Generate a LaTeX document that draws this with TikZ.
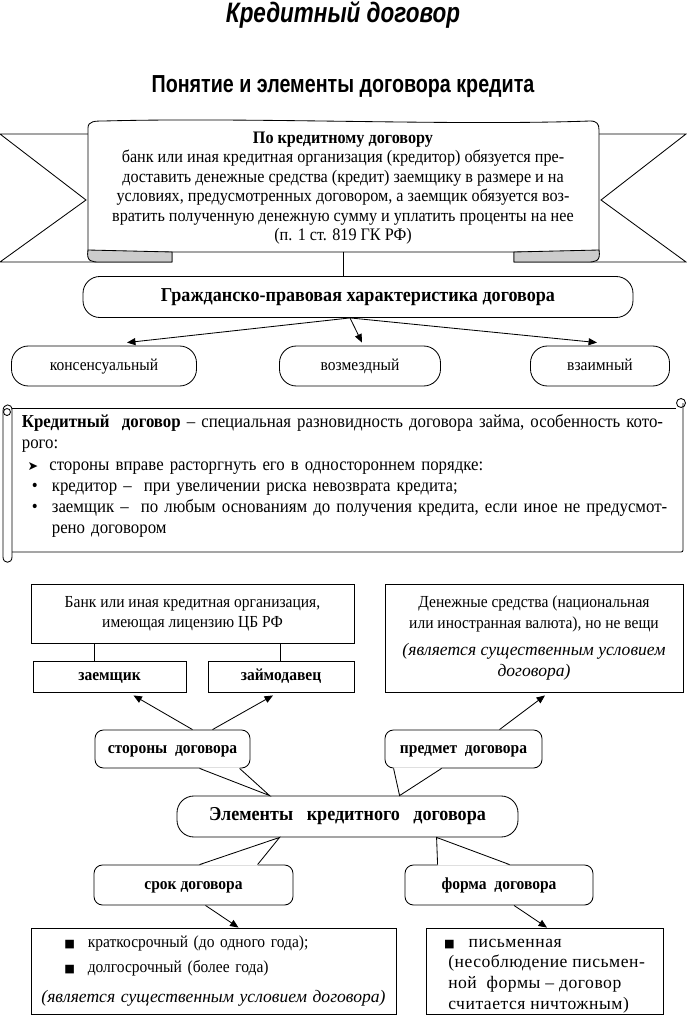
\documentclass[tikz,border=0pt]{standalone}
\usepackage{fontspec}
\setmainfont[FakeStretch=0.92]{Liberation Serif}
\newfontfamily\headfont[FakeStretch=0.8]{Liberation Sans}
\newfontfamily\itfont{Liberation Serif}
\newfontfamily\wideserif[LetterSpace=3]{Liberation Serif}
\newfontfamily\symfont{DejaVu Sans}
\usetikzlibrary{calc,arrows.meta}
\def\pxu{0.025cm}

\begin{document}
\begin{tikzpicture}[x=0.025cm,y=-0.025cm,line width=0.6pt,
  every node/.style={inner sep=0pt,font=\fontsize{12}{14.5}\selectfont},
  wh/.style 2 args={minimum width=#1*\pxu,minimum height=#2*\pxu},
  oneline/.style={text height=8.5pt,text depth=2.5pt},
  pill/.style={draw,rounded corners=12pt},
  card/.style={draw},
  bubble/.style={draw,rounded corners=6pt},
  bold/.style={font=\fontsize{12}{14.5}\selectfont\bfseries},
  big/.style={font=\fontsize{14}{16}\selectfont\bfseries},
  cover/.style={fill=white,draw=none},
  link/.style={-{Triangle[length=6pt,width=5pt]}}]
\useasboundingbox (0,0) rectangle (686,1024);

\node[font=\headfont\bfseries\itshape\fontsize{20}{24}\selectfont] (title) at (343,15) {Кредитный договор};
\node[font=\headfont\bfseries\fontsize{17.5}{20}\selectfont] (subtitle) at (343,87) {Понятие и элементы договора кредита};

\draw (88,134) -- (0,134) -- (86,200) -- (0,262) -- (172,262) -- (172,252);
\draw (599,134) -- (686,134) -- (601,200) -- (686,262) -- (514,262) -- (514,252);
\draw[fill=white] (88,252) -- (88,128) .. controls (88,121) and (95,121) .. (104,121) .. controls (250,117) and (450,126) .. (590,121) .. controls (597,121) and (599,124) .. (599,130) -- (599,252) -- cycle;
\filldraw[fill=gray!40] (88,250) .. controls (86,262) and (92,262) .. (100,262) -- (172,262) -- (172,252) -- cycle;
\filldraw[fill=gray!40] (599,250) .. controls (601,262) and (595,262) .. (587,262) -- (514,262) -- (514,252) -- cycle;
\node[align=center,font=\fontsize{12.5}{13.9}\selectfont] (def) at (343,188) {\textbf{По кредитному договору}\\
банк или иная кредитная организация (кредитор) обязуется пре-\\
доставить денежные средства (кредит) заемщику в размере и на\\
условиях, предусмотренных договором, а заемщик обязуется воз-\\
вратить полученную денежную сумму и уплатить проценты на нее\\
(п. 1 ст. 819 ГК РФ)};
\coordinate (bannerbot) at (343,252);

\node[pill,big,oneline,wh={550}{41}] (grazh) at (358,297) {Гражданско-правовая характеристика договора};
\draw (bannerbot) -- (bannerbot |- grazh.north);
\node[pill,oneline,wh={185}{40}] (kons) at (104,366) {консенсуальный};
\node[pill,oneline,wh={161}{40}] (vozm) at (360,366) {возмездный};
\node[pill,oneline,wh={139}{40}] (vzaim) at (600,366) {взаимный};
\draw[link] ($(grazh.south)+(-8,0)$) -- ($(kons.north)+(23,-3)$);
\draw[link] ($(grazh.south)+(-8,0)$) -- ($(vozm.north)+(2,-3)$);
\draw[link] ($(grazh.south)+(-8,0)$) -- ($(vzaim.north)+(-3,-3)$);

\draw (12,408) -- (676,408);
\draw (683,403) -- (683,548) .. controls (683,552) .. (679,552) -- (12,552);
\draw (681,403) circle[radius=4.5];
\draw (12,552) -- (12,410) .. controls (12,403) and (3,403) .. (3,411) -- (3,557) .. controls (3,564) and (12,564) .. (12,557) -- (12,552);
\draw (7,412) circle[radius=3.5];
\node[align=left,text width=16.15cm,font=\fontsize{13}{15}\selectfont] (note) at (345,476) {%
\makebox[\hsize][s]{\textbf{Кредитный\ \ договор} – специальная разновидность договора займа, особенность кото-}\\
рого:\\
\hspace*{4pt}{\symfont\fontsize{9}{9}\selectfont ➤}\hspace{8pt}стороны вправе расторгнуть его в одностороннем порядке:\\
\makebox[21.3pt][l]{\hspace*{7pt}•}кредитор – \ при увеличении риска невозврата кредита;\\
\makebox[21.3pt][l]{\hspace*{7pt}•}\makebox[\dimexpr\hsize-21.3pt\relax][s]{заемщик – \ по любым основаниям до получения кредита, если иное не предусмот-}\\
\hspace*{21.3pt}рено договором};

\node[card,wh={323}{59},align=center] (bank) at (192.5,613.5) {Банк или иная кредитная организация,\\имеющая лицензию ЦБ РФ};
\node[card,bold,oneline,wh={153}{31}] (zaem) at (109.5,676.5) {заемщик};
\node[card,bold,oneline,wh={146}{31}] (lender) at (281,676.5) {займодавец};
\coordinate (zl) at ($(zaem.north)+(-15.5,0)$);
\coordinate (ll) at ($(lender.north)+(-1,0)$);
\draw (zl) -- (zl |- bank.south);
\draw (ll) -- (ll |- bank.south);
\node[card,wh={298}{108},align=center] (subject) at (534,638) {Денежные средства (национальная\\или иностранная валюта), но не вещи\\[5pt]
{\itfont\itshape\fontsize{12.5}{14.5}\selectfont (является существенным условием}\\{\itfont\itshape\fontsize{12.5}{14.5}\selectfont договора)}};

\node[bubble,bold,oneline,wh={155}{38}] (parties) at (172.5,749) {стороны\ \ договора};
\node[bubble,bold,oneline,wh={157}{38}] (object) at (463.5,749) {предмет\ \ договора};
\node[pill,big,oneline,wh={341}{41}] (elements) at (347.5,816.5) {Элементы\ \ \ кредитного\ \ \ договора};
\node[bubble,bold,oneline,wh={199}{40}] (term) at (193.5,885) {срок договора};
\node[bubble,bold,oneline,wh={188}{40}] (form) at (499,885) {форма\ \ договора};

\coordinate (tipA) at ($(elements.north west)+(93,0)$);
\coordinate (tipB) at ($(elements.north west)+(223,0)$);
\coordinate (tipC) at ($(elements.south west)+(103,0)$);
\coordinate (tipD) at ($(elements.south west)+(260,0)$);
\fill[cover] ($(parties.south west)+(105,-1)$) -- (tipA) -- ($(parties.south west)+(145,-1)$) -- cycle;
\draw ($(parties.south west)+(105,0)$) -- (tipA) -- ($(parties.south west)+(145,0)$);
\fill[cover] ($(object.south west)+(9,-1)$) -- (tipB) -- ($(object.south west)+(57,-1)$) -- cycle;
\draw ($(object.south west)+(9,0)$) -- (tipB) -- ($(object.south west)+(57,0)$);
\fill[cover] ($(term.north west)+(106,1)$) -- (tipC) -- ($(term.north west)+(164,1)$) -- cycle;
\draw ($(term.north west)+(106,0)$) -- (tipC) -- ($(term.north west)+(164,0)$);
\fill[cover] ($(form.north west)+(33,1)$) -- (tipD) -- ($(form.north west)+(105,1)$) -- cycle;
\draw ($(form.north west)+(33,0)$) -- (tipD) -- ($(form.north west)+(105,0)$);

\draw[link] ($(parties.north)+(20,0)$) -- ($(zaem.south)+(24,3)$);
\draw[link] ($(parties.north)+(40,0)$) -- ($(lender.south)+(-8,3)$);
\draw[link] ($(object.north)+(36,0)$) -- ($(subject.south)+(11,3)$);

\node[card,wh={365}{86},align=left,text width=8.7cm] (termlist) at (213.5,971) {%
\hspace*{17.8pt}{\symfont\fontsize{8}{8}\selectfont■}\hspace{9pt}краткосрочный (до одного года);\\[3.3pt]
\hspace*{17.8pt}{\symfont\fontsize{8}{8}\selectfont■}\hspace{9pt}долгосрочный (более года)\\[6.5pt]
\makebox[\hsize][c]{\itfont\itshape\fontsize{12.5}{14.5}\selectfont (является существенным условием договора)}};
\node[card,wh={237}{86}] (formlist) at (544.5,971) {};
\node[align=left,font=\wideserif\fontsize{12.5}{14.8}\selectfont] (formtext) at (544.5,976) {%
{\symfont\fontsize{8}{8}\selectfont■}\hspace{10pt}письменная\\
\hspace*{3pt}(несоблюдение письмен-\\
\hspace*{3pt}ной\ \ формы – договор\\
\hspace*{3pt}считается ничтожным)};
\draw[link] ($(term.south)+(12,0)$) -- ($(termlist.north)+(25,0)$);
\draw[link] ($(form.south)+(15,0)$) -- ($(formlist.north)+(2.5,0)$);
\end{tikzpicture}
\end{document}
